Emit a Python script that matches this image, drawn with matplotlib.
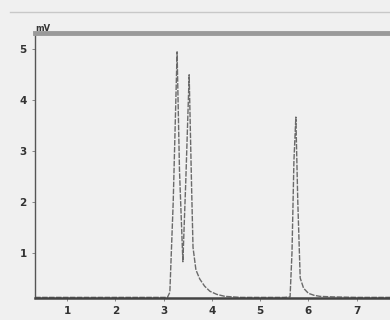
import matplotlib
matplotlib.use("Agg")
import matplotlib.pyplot as plt
from matplotlib.lines import Line2D

# Retention time (min) and signal
time = [0.34, 1.0, 2.0, 3.0, 3.08, 3.13, 3.20, 3.28, 3.33, 3.40, 3.46, 3.53, 3.58,
        3.61, 3.67, 3.75, 3.85, 3.96, 4.10, 4.27, 4.6, 5.0, 5.5, 5.62, 5.66,
        5.70, 5.74, 5.78, 5.83, 5.90, 6.00, 6.12, 6.24, 6.5, 7.0, 7.7]
signal = [0.12, 0.12, 0.12, 0.12, 0.12, 0.22, 2.00, 4.94, 2.60, 0.82, 2.40, 4.49, 2.30,
          1.10, 0.66, 0.48, 0.34, 0.24, 0.18, 0.14, 0.12, 0.12, 0.12, 0.13, 1.00,
          2.80, 3.66, 2.00, 0.50, 0.30, 0.20, 0.16, 0.14, 0.13, 0.12, 0.12]

x_ticks = [1, 2, 3, 4, 5, 6, 7]
x_ticklabels = ["1", "2", "3", "4", "5", "6", "7"]
y_ticks = [1, 2, 3, 4, 5]
y_ticklabels = ["1", "2", "3", "4", "5"]

fig = plt.figure(figsize=(3.9, 3.2), dpi=100, facecolor="#f0f0f0")
ax = fig.add_axes([35 / 390, 22 / 320, 355 / 390, 265 / 320])
ax.set_facecolor("#f0f0f0")

ax.plot(time, signal, color="#6a6a6a", lw=1.0, ls=(0, (4, 1)))

ax.set_xlim(0.337, 7.69)
ax.set_ylim(0.108, 5.31)
ax.set_xticks(x_ticks)
ax.set_xticklabels(x_ticklabels, fontsize=7.5, fontweight="bold", color="#333333")
ax.set_yticks(y_ticks)
ax.set_yticklabels(y_ticklabels, fontsize=7.5, fontweight="bold", color="#333333")
ax.tick_params(axis="both", length=2, width=0.6, color="#777777", pad=4)

ax.spines["right"].set_visible(False)
ax.spines["top"].set_color("#9a9a9a")
ax.spines["top"].set_linewidth(3.5)
ax.spines["left"].set_color("#555555")
ax.spines["left"].set_linewidth(1.0)
ax.spines["bottom"].set_color("#444444")
ax.spines["bottom"].set_linewidth(1.8)

ax.text(0.0, 1.0, "mV", transform=ax.transAxes, fontsize=6, fontweight="bold",
        color="#333333", ha="left", va="bottom")

fig.add_artist(Line2D([10 / 390, 1.0], [1 - 12 / 320, 1 - 12 / 320],
                      transform=fig.transFigure, color="#c8c8c8", lw=1.0))

fig.savefig("out.png", dpi=100, facecolor=fig.get_facecolor())
